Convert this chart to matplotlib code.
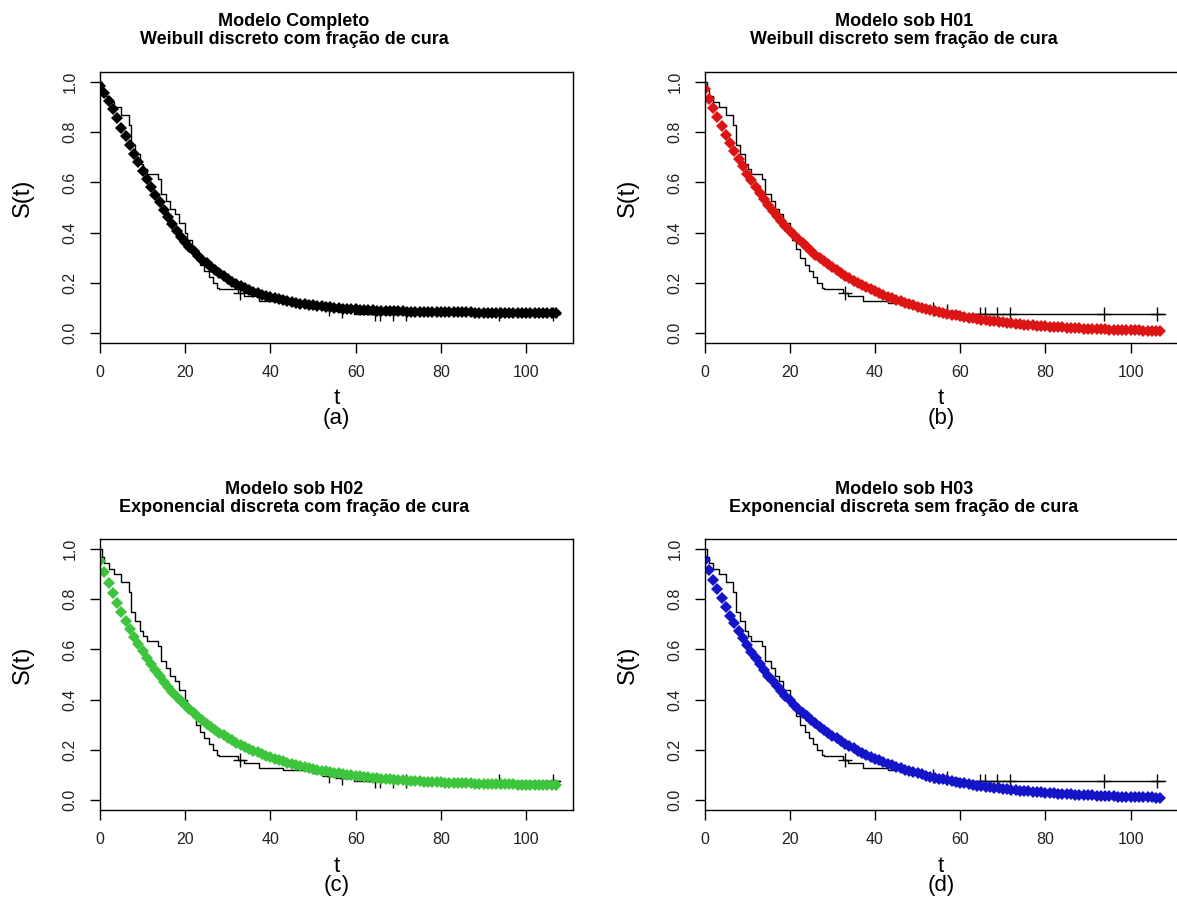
import numpy as np
import matplotlib.pyplot as plt
from matplotlib import rcParams

rcParams["font.family"] = ["Liberation Sans", "DejaVu Sans"]
rcParams["axes.linewidth"] = 1.0

# Kaplan-Meier estimate (step drops) and censored times
km_time = [0, 0.5, 1, 2, 3.3, 5, 6.8, 7.3, 8.3, 9.5, 10.2, 11, 13.5, 14.3, 15.5,
           16.5, 17.5, 18.5, 20, 20.5, 21.5, 22.5, 23.5, 24.5, 25.5, 26.5, 27.5,
           28, 32.5, 33.7, 37.2, 43, 50, 53, 56, 59.5, 108]
km_surv = [1.0, 0.97, 0.945, 0.92, 0.90, 0.87, 0.83, 0.75, 0.715, 0.675, 0.655,
           0.635, 0.615, 0.555, 0.525, 0.495, 0.475, 0.44, 0.40, 0.37, 0.335, 0.30,
           0.27, 0.245, 0.225, 0.20, 0.18, 0.174, 0.161, 0.148, 0.128, 0.118,
           0.107, 0.097, 0.086, 0.075, 0.075]
censor_time = [32.9, 53.7, 56.8, 64.6, 65.8, 68.7, 71.7, 93.7, 106.3]

# fitted survival at t = 0..107
weib_cura = [0.985, 0.955, 0.925, 0.893, 0.856, 0.818, 0.785, 0.749, 0.713, 0.683,
             0.646, 0.615, 0.582, 0.550, 0.520, 0.490, 0.461, 0.434, 0.408, 0.384,
             0.362, 0.343, 0.325, 0.308, 0.292, 0.277, 0.263, 0.250, 0.238, 0.226,
             0.215, 0.205, 0.196, 0.187, 0.179, 0.172, 0.165, 0.159, 0.153, 0.148,
             0.143, 0.138, 0.134, 0.130, 0.126, 0.123, 0.120, 0.117, 0.114, 0.112,
             0.110, 0.108, 0.106, 0.104, 0.102, 0.100, 0.099, 0.097, 0.096, 0.095,
             0.094, 0.093, 0.092, 0.091, 0.090, 0.089, 0.089, 0.088, 0.087, 0.087,
             0.086, 0.086, 0.085, 0.085, 0.085, 0.084, 0.084, 0.084, 0.083, 0.083,
             0.083, 0.083, 0.082, 0.082, 0.082, 0.082, 0.082, 0.082, 0.081, 0.081,
             0.081, 0.081, 0.081, 0.081, 0.081, 0.081, 0.081, 0.081, 0.080, 0.080,
             0.080, 0.080, 0.080, 0.080, 0.080, 0.080, 0.080, 0.080]
weib_sem = [0.973, 0.934, 0.896, 0.859, 0.823, 0.789, 0.756, 0.724, 0.693, 0.664,
            0.635, 0.608, 0.582, 0.557, 0.533, 0.510, 0.488, 0.467, 0.446, 0.427,
            0.408, 0.391, 0.374, 0.357, 0.342, 0.327, 0.312, 0.299, 0.285, 0.273,
            0.261, 0.249, 0.238, 0.228, 0.218, 0.208, 0.199, 0.190, 0.182, 0.174,
            0.166, 0.158, 0.151, 0.145, 0.138, 0.132, 0.126, 0.121, 0.115, 0.110,
            0.105, 0.100, 0.096, 0.092, 0.088, 0.084, 0.080, 0.076, 0.073, 0.070,
            0.066, 0.063, 0.061, 0.058, 0.055, 0.053, 0.050, 0.048, 0.046, 0.044,
            0.042, 0.040, 0.038, 0.036, 0.035, 0.033, 0.032, 0.030, 0.029, 0.028,
            0.026, 0.025, 0.024, 0.023, 0.022, 0.021, 0.020, 0.019, 0.018, 0.017,
            0.017, 0.016, 0.015, 0.014, 0.014, 0.013, 0.013, 0.012, 0.011, 0.011,
            0.010, 0.010, 0.010, 0.009, 0.009, 0.008, 0.008, 0.008]
expo_cura = [0.953, 0.908, 0.865, 0.825, 0.786, 0.750, 0.715, 0.682, 0.651, 0.621,
             0.593, 0.566, 0.540, 0.516, 0.493, 0.471, 0.450, 0.430, 0.412, 0.394,
             0.377, 0.361, 0.346, 0.331, 0.317, 0.304, 0.292, 0.280, 0.268, 0.258,
             0.248, 0.238, 0.229, 0.220, 0.212, 0.204, 0.197, 0.190, 0.183, 0.176,
             0.170, 0.165, 0.159, 0.154, 0.149, 0.144, 0.140, 0.136, 0.132, 0.128,
             0.124, 0.121, 0.117, 0.114, 0.111, 0.108, 0.106, 0.103, 0.101, 0.099,
             0.096, 0.094, 0.092, 0.090, 0.089, 0.087, 0.085, 0.084, 0.082, 0.081,
             0.080, 0.079, 0.077, 0.076, 0.075, 0.074, 0.073, 0.072, 0.072, 0.071,
             0.070, 0.069, 0.069, 0.068, 0.067, 0.067, 0.066, 0.066, 0.065, 0.065,
             0.064, 0.064, 0.063, 0.063, 0.063, 0.062, 0.062, 0.062, 0.061, 0.061,
             0.061, 0.060, 0.060, 0.060, 0.060, 0.059, 0.059, 0.059]
expo_sem = [0.957, 0.916, 0.876, 0.839, 0.803, 0.768, 0.735, 0.704, 0.673, 0.644,
            0.617, 0.590, 0.565, 0.540, 0.517, 0.495, 0.474, 0.453, 0.434, 0.415,
            0.397, 0.380, 0.364, 0.348, 0.333, 0.319, 0.305, 0.292, 0.280, 0.268,
            0.256, 0.245, 0.235, 0.224, 0.215, 0.206, 0.197, 0.188, 0.180, 0.172,
            0.165, 0.158, 0.151, 0.145, 0.138, 0.132, 0.127, 0.121, 0.116, 0.111,
            0.106, 0.102, 0.097, 0.093, 0.089, 0.085, 0.082, 0.078, 0.075, 0.072,
            0.069, 0.066, 0.063, 0.060, 0.057, 0.055, 0.053, 0.050, 0.048, 0.046,
            0.044, 0.042, 0.040, 0.039, 0.037, 0.035, 0.034, 0.032, 0.031, 0.030,
            0.028, 0.027, 0.026, 0.025, 0.024, 0.023, 0.022, 0.021, 0.020, 0.019,
            0.018, 0.018, 0.017, 0.016, 0.015, 0.015, 0.014, 0.013, 0.013, 0.012,
            0.012, 0.011, 0.011, 0.010, 0.010, 0.010, 0.009, 0.009]

t_grid = np.arange(len(weib_cura))

titles = [("Modelo Completo", "Weibull discreto com fração de cura"),
          ("Modelo sob H01", "Weibull discreto sem fração de cura"),
          ("Modelo sob H02", "Exponencial discreta com fração de cura"),
          ("Modelo sob H03", "Exponencial discreta sem fração de cura")]
letters = ["(a)", "(b)", "(c)", "(d)"]
curves = [weib_cura, weib_sem, expo_cura, expo_sem]
colors = ["black", "#DD1414", "#3CC43C", "#1414C8"]

W, H = 1177, 923
fig = plt.figure(figsize=(W / 100, H / 100), dpi=100)

# panel boxes in pixels: left, top, width, height
boxes = [(100, 72, 473, 271), (704.5, 72, 473, 271),
         (100, 539, 473, 271), (704.5, 539, 473, 271)]
title_x = [294, 904, 294, 904]
ylab_x = [23, 628, 23, 628]

km_t = np.array(km_time)
km_s = np.array(km_surv)
cens_s = km_s[np.searchsorted(km_t, censor_time, side="right") - 1]

for i, (l, top, w, h) in enumerate(boxes):
    ax = fig.add_axes([l / W, 1 - (top + h) / H, w / W, h / H])
    ax.step(km_t, km_s, where="post", color="black", lw=1.0)
    ax.plot(censor_time, cens_s, "+", color="black", ms=10, mew=1.0)
    ax.plot(t_grid, curves[i], "D", color=colors[i], ms=6.2, mew=0)
    ax.set_xlim(0, 111)
    ax.set_ylim(-0.04, 1.04)
    ax.set_xticks([0, 20, 40, 60, 80, 100])
    ax.set_yticks([0, 0.2, 0.4, 0.6, 0.8, 1.0])
    ax.set_yticklabels(["0.0", "0.2", "0.4", "0.6", "0.8", "1.0"],
                       rotation=90, va="center")
    ax.tick_params(direction="out", length=7, width=1, labelsize=11.5,
                   pad=9, labelcolor="#222222")

    cx = (l + w / 2) / W
    fig.text(title_x[i] / W, 1 - (top - 50) / H, titles[i][0], ha="center",
             va="center", fontsize=13, fontweight="bold")
    fig.text(title_x[i] / W, 1 - (top - 32) / H, titles[i][1], ha="center",
             va="center", fontsize=13, fontweight="bold")
    fig.text(ylab_x[i] / W, 1 - (top + h / 2 - 10) / H, "S(t)", rotation=90,
             ha="center", va="center", fontsize=17)
    fig.text(cx, 1 - (top + h + 56) / H, "t", ha="center", va="center",
             fontsize=16)
    fig.text(cx, 1 - (top + h + 75) / H, letters[i], ha="center", va="center",
             fontsize=16)

fig.savefig("out.png", dpi=100)
